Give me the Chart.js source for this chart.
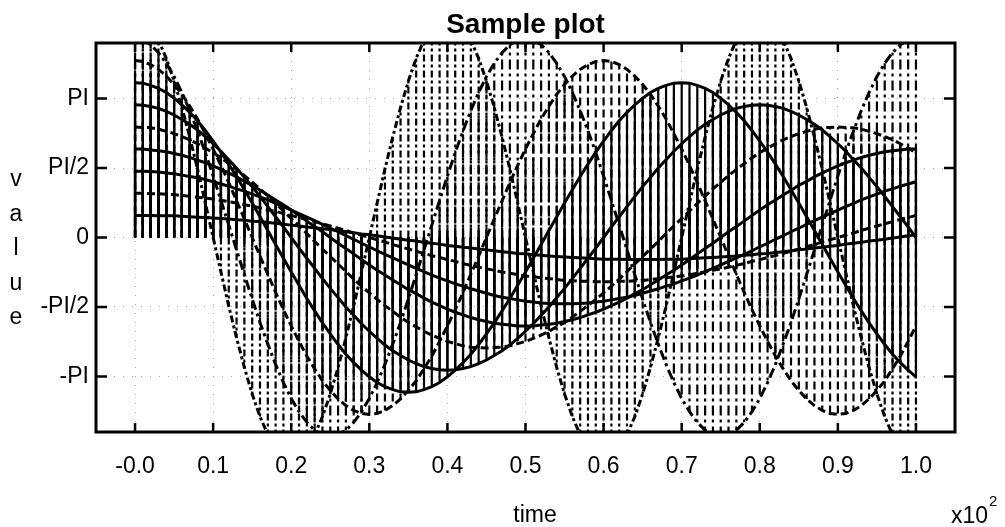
<!DOCTYPE html>
<html>
<head>
<meta charset="utf-8">
<title>Sample plot</title>
<script src="https://cdn.jsdelivr.net/npm/chart.js@4.4.0/dist/chart.umd.min.js"></script>
<style>
  html, body { margin: 0; padding: 0; background: #fff; }
  #wrap { width: 1005px; height: 527px; }
</style>
</head>
<body>
<div id="wrap"><canvas id="plot" width="1005" height="527"></canvas></div>
<script>
// sample times (axis shows them x10^2)
const timeSteps = [
  0,1,2,3,4,5,6,7,8,9,10,11,12,13,14,15,16,17,18,19,20,
  21,22,23,24,25,26,27,28,29,30,31,32,33,34,35,36,37,38,39,40,
  41,42,43,44,45,46,47,48,49,50,51,52,53,54,55,56,57,58,59,60,
  61,62,63,64,65,66,67,68,69,70,71,72,73,74,75,76,77,78,79,80,
  81,82,83,84,85,86,87,88,89,90,91,92,93,94,95,96,97,98,99,100
];

// one array per curve
const value1 = [
  0.50,0.50,0.50,0.49,0.49,0.49,0.48,0.47,0.46,0.45,0.44,
  0.43,0.42,0.40,0.39,0.37,0.36,0.34,0.32,0.30,0.28,
  0.26,0.24,0.22,0.20,0.18,0.15,0.13,0.11,0.08,0.06,
  0.04,0.01,-0.01,-0.04,-0.06,-0.08,-0.11,-0.13,-0.15,-0.18,
  -0.20,-0.22,-0.24,-0.26,-0.28,-0.30,-0.32,-0.34,-0.36,-0.37,
  -0.39,-0.40,-0.42,-0.43,-0.44,-0.45,-0.46,-0.47,-0.48,-0.49,
  -0.49,-0.49,-0.50,-0.50,-0.50,-0.50,-0.50,-0.49,-0.49,-0.49,
  -0.48,-0.47,-0.46,-0.45,-0.44,-0.43,-0.42,-0.40,-0.39,-0.37,
  -0.36,-0.34,-0.32,-0.30,-0.28,-0.26,-0.24,-0.22,-0.20,-0.18,
  -0.15,-0.13,-0.11,-0.08,-0.06,-0.04,-0.01,0.01,0.04,0.06
];
const value2 = [
  1.00,1.00,0.99,0.99,0.98,0.97,0.95,0.93,0.91,0.89,0.87,
  0.84,0.81,0.78,0.74,0.71,0.67,0.63,0.59,0.54,0.50,
  0.45,0.41,0.36,0.31,0.26,0.21,0.16,0.10,0.05,0.00,
  -0.05,-0.10,-0.16,-0.21,-0.26,-0.31,-0.36,-0.41,-0.45,-0.50,
  -0.54,-0.59,-0.63,-0.67,-0.71,-0.74,-0.78,-0.81,-0.84,-0.87,
  -0.89,-0.91,-0.93,-0.95,-0.97,-0.98,-0.99,-0.99,-1.00,-1.00,
  -1.00,-0.99,-0.99,-0.98,-0.97,-0.95,-0.93,-0.91,-0.89,-0.87,
  -0.84,-0.81,-0.78,-0.74,-0.71,-0.67,-0.63,-0.59,-0.54,-0.50,
  -0.45,-0.41,-0.36,-0.31,-0.26,-0.21,-0.16,-0.10,-0.05,0.00,
  0.05,0.10,0.16,0.21,0.26,0.31,0.36,0.41,0.45,0.50
];
const value3 = [
  1.50,1.50,1.49,1.48,1.46,1.44,1.41,1.38,1.35,1.31,1.26,
  1.21,1.16,1.10,1.05,0.98,0.92,0.85,0.77,0.70,0.62,
  0.54,0.46,0.38,0.30,0.21,0.13,0.04,-0.04,-0.13,-0.21,
  -0.30,-0.38,-0.46,-0.54,-0.62,-0.70,-0.77,-0.85,-0.92,-0.98,
  -1.05,-1.10,-1.16,-1.21,-1.26,-1.31,-1.35,-1.38,-1.41,-1.44,
  -1.46,-1.48,-1.49,-1.50,-1.50,-1.50,-1.49,-1.48,-1.46,-1.44,
  -1.41,-1.38,-1.35,-1.31,-1.26,-1.21,-1.16,-1.10,-1.05,-0.98,
  -0.92,-0.85,-0.77,-0.70,-0.62,-0.54,-0.46,-0.38,-0.30,-0.21,
  -0.13,-0.04,0.04,0.13,0.21,0.30,0.38,0.46,0.54,0.62,
  0.70,0.77,0.85,0.92,0.98,1.05,1.10,1.16,1.21,1.26
];
const value4 = [
  2.00,2.00,1.98,1.96,1.94,1.90,1.86,1.81,1.75,1.69,1.62,
  1.54,1.46,1.37,1.27,1.18,1.07,0.96,0.85,0.74,0.62,
  0.50,0.37,0.25,0.13,0.00,-0.13,-0.25,-0.37,-0.50,-0.62,
  -0.74,-0.85,-0.96,-1.07,-1.18,-1.27,-1.37,-1.46,-1.54,-1.62,
  -1.69,-1.75,-1.81,-1.86,-1.90,-1.94,-1.96,-1.98,-2.00,-2.00,
  -2.00,-1.98,-1.96,-1.94,-1.90,-1.86,-1.81,-1.75,-1.69,-1.62,
  -1.54,-1.46,-1.37,-1.27,-1.18,-1.07,-0.96,-0.85,-0.74,-0.62,
  -0.50,-0.37,-0.25,-0.13,0.00,0.13,0.25,0.37,0.50,0.62,
  0.74,0.85,0.96,1.07,1.18,1.27,1.37,1.46,1.54,1.62,
  1.69,1.75,1.81,1.86,1.90,1.94,1.96,1.98,2.00,2.00
];
const value5 = [
  2.50,2.49,2.48,2.45,2.40,2.35,2.28,2.21,2.12,2.02,1.92,
  1.80,1.67,1.54,1.40,1.25,1.10,0.94,0.77,0.60,0.43,
  0.26,0.09,-0.09,-0.26,-0.43,-0.60,-0.77,-0.94,-1.10,-1.25,
  -1.40,-1.54,-1.67,-1.80,-1.92,-2.02,-2.12,-2.21,-2.28,-2.35,
  -2.40,-2.45,-2.48,-2.49,-2.50,-2.49,-2.48,-2.45,-2.40,-2.35,
  -2.28,-2.21,-2.12,-2.02,-1.92,-1.80,-1.67,-1.54,-1.40,-1.25,
  -1.10,-0.94,-0.77,-0.60,-0.43,-0.26,-0.09,0.09,0.26,0.43,
  0.60,0.77,0.94,1.10,1.25,1.40,1.54,1.67,1.80,1.92,
  2.02,2.12,2.21,2.28,2.35,2.40,2.45,2.48,2.49,2.50,
  2.49,2.48,2.45,2.40,2.35,2.28,2.21,2.12,2.02,1.92
];
const value6 = [
  3.00,2.99,2.96,2.92,2.85,2.77,2.67,2.56,2.43,2.28,2.12,
  1.95,1.76,1.57,1.36,1.15,0.93,0.70,0.47,0.24,0.00,
  -0.24,-0.47,-0.70,-0.93,-1.15,-1.36,-1.57,-1.76,-1.95,-2.12,
  -2.28,-2.43,-2.56,-2.67,-2.77,-2.85,-2.92,-2.96,-2.99,-3.00,
  -2.99,-2.96,-2.92,-2.85,-2.77,-2.67,-2.56,-2.43,-2.28,-2.12,
  -1.95,-1.76,-1.57,-1.36,-1.15,-0.93,-0.70,-0.47,-0.24,0.00,
  0.24,0.47,0.70,0.93,1.15,1.36,1.57,1.76,1.95,2.12,
  2.28,2.43,2.56,2.67,2.77,2.85,2.92,2.96,2.99,3.00,
  2.99,2.96,2.92,2.85,2.77,2.67,2.56,2.43,2.28,2.12,
  1.95,1.76,1.57,1.36,1.15,0.93,0.70,0.47,0.24,0.00
];
const value7 = [
  3.50,3.49,3.44,3.37,3.28,3.15,3.00,2.83,2.64,2.42,2.18,
  1.93,1.66,1.38,1.08,0.78,0.47,0.16,-0.16,-0.47,-0.78,
  -1.08,-1.38,-1.66,-1.93,-2.18,-2.42,-2.64,-2.83,-3.00,-3.15,
  -3.28,-3.37,-3.44,-3.49,-3.50,-3.49,-3.44,-3.37,-3.28,-3.15,
  -3.00,-2.83,-2.64,-2.42,-2.18,-1.93,-1.66,-1.38,-1.08,-0.78,
  -0.47,-0.16,0.16,0.47,0.78,1.08,1.38,1.66,1.93,2.18,
  2.42,2.64,2.83,3.00,3.15,3.28,3.37,3.44,3.49,3.50,
  3.49,3.44,3.37,3.28,3.15,3.00,2.83,2.64,2.42,2.18,
  1.93,1.66,1.38,1.08,0.78,0.47,0.16,-0.16,-0.47,-0.78,
  -1.08,-1.38,-1.66,-1.93,-2.18,-2.42,-2.64,-2.83,-3.00,-3.15
];
const value8 = [
  4.00,3.98,3.91,3.80,3.65,3.46,3.24,2.97,2.68,2.35,2.00,
  1.63,1.24,0.83,0.42,0.00,-0.42,-0.83,-1.24,-1.63,-2.00,
  -2.35,-2.68,-2.97,-3.24,-3.46,-3.65,-3.80,-3.91,-3.98,-4.00,
  -3.98,-3.91,-3.80,-3.65,-3.46,-3.24,-2.97,-2.68,-2.35,-2.00,
  -1.63,-1.24,-0.83,-0.42,0.00,0.42,0.83,1.24,1.63,2.00,
  2.35,2.68,2.97,3.24,3.46,3.65,3.80,3.91,3.98,4.00,
  3.98,3.91,3.80,3.65,3.46,3.24,2.97,2.68,2.35,2.00,
  1.63,1.24,0.83,0.42,0.00,-0.42,-0.83,-1.24,-1.63,-2.00,
  -2.35,-2.68,-2.97,-3.24,-3.46,-3.65,-3.80,-3.91,-3.98,-4.00,
  -3.98,-3.91,-3.80,-3.65,-3.46,-3.24,-2.97,-2.68,-2.35,-2.00
];
const value9 = [
  4.50,4.46,4.36,4.18,3.94,3.64,3.28,2.87,2.41,1.92,1.39,
  0.84,0.28,-0.28,-0.84,-1.39,-1.92,-2.41,-2.87,-3.28,-3.64,
  -3.94,-4.18,-4.36,-4.46,-4.50,-4.46,-4.36,-4.18,-3.94,-3.64,
  -3.28,-2.87,-2.41,-1.92,-1.39,-0.84,-0.28,0.28,0.84,1.39,
  1.92,2.41,2.87,3.28,3.64,3.94,4.18,4.36,4.46,4.50,
  4.46,4.36,4.18,3.94,3.64,3.28,2.87,2.41,1.92,1.39,
  0.84,0.28,-0.28,-0.84,-1.39,-1.92,-2.41,-2.87,-3.28,-3.64,
  -3.94,-4.18,-4.36,-4.46,-4.50,-4.46,-4.36,-4.18,-3.94,-3.64,
  -3.28,-2.87,-2.41,-1.92,-1.39,-0.84,-0.28,0.28,0.84,1.39,
  1.92,2.41,2.87,3.28,3.64,3.94,4.18,4.36,4.46,4.50
];
const value10 = [
  5.00,4.94,4.76,4.46,4.05,3.54,2.94,2.27,1.55,0.78,0.00,
  -0.78,-1.55,-2.27,-2.94,-3.54,-4.05,-4.46,-4.76,-4.94,-5.00,
  -4.94,-4.76,-4.46,-4.05,-3.54,-2.94,-2.27,-1.55,-0.78,0.00,
  0.78,1.55,2.27,2.94,3.54,4.05,4.46,4.76,4.94,5.00,
  4.94,4.76,4.46,4.05,3.54,2.94,2.27,1.55,0.78,0.00,
  -0.78,-1.55,-2.27,-2.94,-3.54,-4.05,-4.46,-4.76,-4.94,-5.00,
  -4.94,-4.76,-4.46,-4.05,-3.54,-2.94,-2.27,-1.55,-0.78,0.00,
  0.78,1.55,2.27,2.94,3.54,4.05,4.46,4.76,4.94,5.00,
  4.94,4.76,4.46,4.05,3.54,2.94,2.27,1.55,0.78,0.00,
  -0.78,-1.55,-2.27,-2.94,-3.54,-4.05,-4.46,-4.76,-4.94,-5.00
];

const curves = [value1, value2, value3, value4, value5, value6, value7, value8, value9, value10];

const xTickValues = [0, 10, 20, 30, 40, 50, 60, 70, 80, 90, 100];
const xTickLabels = ['-0.0', '0.1', '0.2', '0.3', '0.4', '0.5', '0.6', '0.7', '0.8', '0.9', '1.0'];
const yTickValues = [-Math.PI, -Math.PI / 2, 0, Math.PI / 2, Math.PI];
const yTickLabels = ['-PI', '-PI/2', '0', 'PI/2', 'PI'];

const titleText = 'Sample plot';
const xTitle = 'time';
const yTitle = ['v', 'a', 'l', 'u', 'e'];

// line pattern of each curve
const SOLID = [], DASH = [8, 4], DASHDOT = [10, 4, 3, 4], DASHDOT2 = [7, 3, 3, 3];
const curveDash = [SOLID, DASH, SOLID, SOLID, DASH, SOLID, SOLID, DASH, DASHDOT, DASHDOT2];

const FONT = '"Liberation Sans", Arial, Helvetica, sans-serif';

// vertical drop lines from 0 to every sample, broken apart with nulls
function dropLines(vals) {
    const pts = [];
    timeSteps.forEach((t, i) => {
        pts.push({ x: t, y: 0 }, { x: t, y: vals[i] }, { x: t, y: null });
    });
    return pts;
}

const datasets = [];
curves.forEach((vals, k) => {
    datasets.push({
        data: dropLines(vals),
        borderColor: '#000',
        borderWidth: 2.2,
        borderDash: curveDash[k],
        borderCapStyle: 'butt',
        pointRadius: 0,
        spanGaps: false,
        tension: 0,
        fill: false
    });
    datasets.push({
        data: timeSteps.map((t, i) => ({ x: t, y: vals[i] })),
        borderColor: '#000',
        borderWidth: 3,
        borderDash: curveDash[k],
        pointRadius: 0,
        tension: 0,
        fill: false
    });
});

const framePlugin = {
    id: 'frame',
    afterDraw(chart) {
        const { ctx, chartArea: a, scales } = chart;
        const xs = scales.x, ys = scales.y;
        ctx.save();
        ctx.strokeStyle = '#000';
        ctx.lineWidth = 3;
        ctx.setLineDash([]);
        ctx.strokeRect(a.left, a.top, a.right - a.left, a.bottom - a.top);
        ctx.lineWidth = 2.5;
        ctx.beginPath();
        xTickValues.forEach(v => {
            const px = xs.getPixelForValue(v);
            ctx.moveTo(px, a.bottom); ctx.lineTo(px, a.bottom - 9);
            ctx.moveTo(px, a.top); ctx.lineTo(px, a.top + 9);
        });
        yTickValues.forEach(v => {
            const py = ys.getPixelForValue(v);
            ctx.moveTo(a.left, py); ctx.lineTo(a.left + 11, py);
            ctx.moveTo(a.right, py); ctx.lineTo(a.right - 11, py);
        });
        ctx.stroke();

        ctx.fillStyle = '#000';
        ctx.textBaseline = 'alphabetic';
        ctx.textAlign = 'center';
        ctx.font = 'bold 28px ' + FONT;
        ctx.fillText(titleText, (a.left + a.right) / 2, 33);

        ctx.font = '23px ' + FONT;
        ctx.fillText(xTitle, 535, 522);
        yTitle.forEach((ch, i) => ctx.fillText(ch, 16, 186 + i * 34.5));

        ctx.textAlign = 'left';
        ctx.font = '23px ' + FONT;
        ctx.fillText('x10', 951, 523);
        const w = ctx.measureText('x10').width;
        ctx.font = '15px ' + FONT;
        ctx.fillText('2', 951 + w + 1, 506);
        ctx.restore();
    }
};

new Chart(document.getElementById('plot'), {
    type: 'line',
    data: { datasets: datasets },
    options: {
        responsive: false,
        animation: false,
        devicePixelRatio: 1,
        events: [],
        layout: { padding: { left: 0, right: 50, top: 43, bottom: 0 } },
        plugins: { legend: { display: false }, tooltip: { enabled: false }, title: { display: false } },
        scales: {
            x: {
                type: 'linear',
                min: -5,
                max: 105,
                afterBuildTicks: s => { s.ticks = xTickValues.map(v => ({ value: v })); },
                afterFit: s => { s.height = 95; },
                grid: { color: '#aaa', lineWidth: 1, drawTicks: false },
                border: { display: false, dash: [1, 8] },
                ticks: {
                    color: '#000',
                    padding: 21,
                    maxRotation: 0,
                    font: { family: FONT, size: 23 },
                    callback: (v, i) => xTickLabels[i]
                }
            },
            y: {
                type: 'linear',
                min: -4.398,
                max: 4.398,
                afterBuildTicks: s => { s.ticks = yTickValues.map(v => ({ value: v })); },
                afterFit: s => { s.width = 96; },
                grid: { color: '#aaa', lineWidth: 1, drawTicks: false },
                border: { display: false, dash: [1, 8] },
                ticks: {
                    color: '#000',
                    padding: 7,
                    font: { family: FONT, size: 23 },
                    callback: (v, i) => yTickLabels[i]
                }
            }
        }
    },
    plugins: [framePlugin]
});
</script>
</body>
</html>
